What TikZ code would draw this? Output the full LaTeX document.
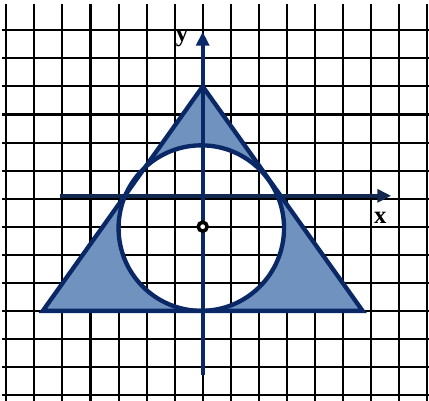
\documentclass[tikz,border=0pt]{standalone}
\usepackage{fontspec}
\setmainfont{Liberation Serif}
\usepackage{tikz}
\usetikzlibrary{arrows.meta,positioning}
\definecolor{shadeblue}{RGB}{112,146,191}
\definecolor{edgenavy}{RGB}{10,40,102}
\definecolor{axisnavy}{RGB}{18,40,78}

\begin{document}
\begin{tikzpicture}[
    gridline/.style={line width=2.1pt, black},
    edge/.style={line width=4.4pt, draw=edgenavy, line join=miter},
    axis/.style={line width=4.4pt, -{Triangle[length=14pt,width=13pt]}},
    lbl/.style={font=\bfseries\fontsize{25}{25}\selectfont, inner sep=0pt}
]
\useasboundingbox (-7.227,-6.214) rectangle (8.068,8.082);

% grid
\foreach \gx in {-7,...,8}
    \draw[gridline] (\gx,-6.25) -- (\gx,7.95);
\foreach \gy in {-6,...,7}
    \draw[gridline] (-7.15,\gy) -- (8.1,\gy);

\coordinate (apex) at (0,5);
\coordinate (bl) at (-5.7,-3);
\coordinate (br) at (5.7,-3);
\coordinate (ctr) at (-0.05,-0.05);

% shaded part: triangle without the circle
\begin{scope}
    \clip (apex) -- (bl) -- (br) -- cycle;
    \fill[shadeblue, even odd rule] (apex) -- (bl) -- (br) -- cycle
        (ctr) circle (2.95);
\end{scope}

% axes
\coordinate (xl) at (-5.1,1.1);
\coordinate (xr) at (6.72,1.1);
\coordinate (yb) at (0,-5.3);
\coordinate (yt) at (0,6.95);
\draw[axis, draw=axisnavy, fill=axisnavy] (xl) -- (xr);
\draw[axis, draw=edgenavy, fill=edgenavy] (yb) -- (yt);

\draw[edge] (apex) -- (bl) -- (br) -- cycle;
\draw[edge] (ctr) circle (2.95);

\node[lbl] (xlab) at (6.33,0.33) {x};
\node[lbl] (ylab) at (-0.74,6.71) {y};

\node[circle, draw=black, fill=white, line width=3.6pt, minimum size=9pt, inner sep=0pt] (origin) at (0,0) {};
\end{tikzpicture}
\end{document}
